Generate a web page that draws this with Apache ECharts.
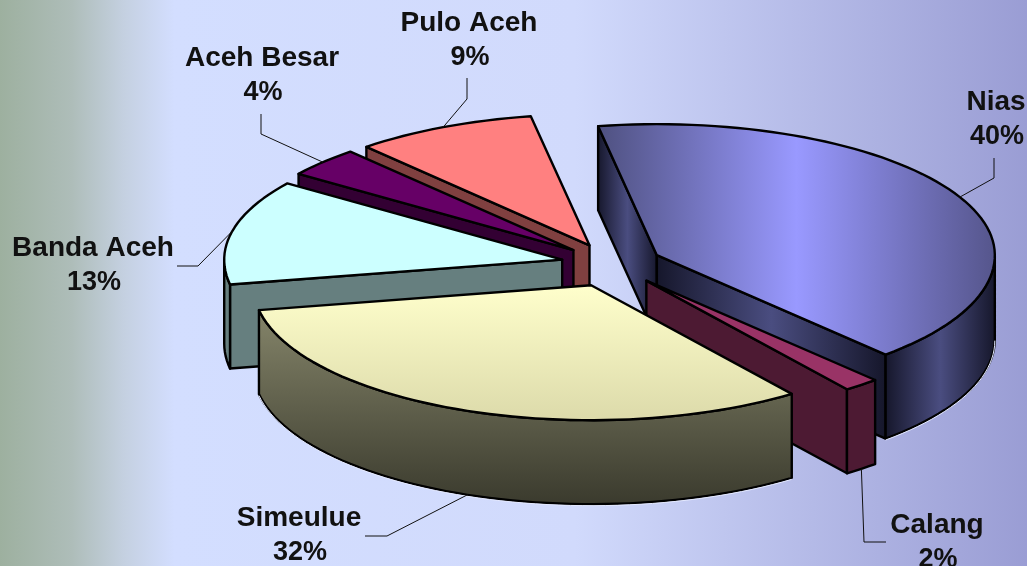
<!DOCTYPE html>
<html>
<head>
<meta charset="utf-8">
<title>Pie</title>
<style>
html, body { margin: 0; padding: 0; background: #d3deff; }
#chart { width: 1027px; height: 566px; }
</style>
<script src="https://cdn.jsdelivr.net/npm/echarts@6/dist/echarts.min.js"></script>
</head>
<body>
<div id="chart"></div>
<script>
// labels show the rounded value
var categories = ["Nias", "Calang", "Simeulue", "Banda Aceh", "Aceh Besar", "Pulo Aceh"];
var values = [40.49, 1.7, 31.8, 12.7, 3.6, 8.6];

// look of the slices, same order as categories
var topColors = [
    ["#4e507f", "#9999ff", "#55558b"], ["#993366", "#993366"], ["#ffffcc", "#dcdaaa"],
    ["#ccffff", "#ccffff"], ["#660066", "#660066"], ["#ff8080", "#ff8080"]
];
var wallColors = [
    ["#15162a", "#4a4d80", "#15162a"], ["#4d1a33", "#4d1a33"], ["#85856a", "#3a3a2d"],
    ["#667f7f", "#667f7f"], ["#330033", "#330033"], ["#804040", "#804040"]
];
var topVertical = [false, false, true, false, false, false];
var wallVertical = [false, false, true, false, false, false];
var explode = [50, 54, 57, 51, 52, 52];
var paintOrder = [3, 4, 5, 2, 1, 0];
var rimHighlight = [true, false, true, false, false, false];

// label centre, leader start, leader elbow
var labelPos = [[996, 102], [937, 525], [299, 518], [93, 248], [262, 58], [469, 23]];
var leaderStart = [[994, 158], [886, 542], [365, 536], [177, 266], [261, 114], [467, 78]];
var leaderElbow = [[994, 178], [864, 542], [387, 536], [198, 266], [261, 134], [467, 99]];

var cx = 612, cy = 264;      // pie centre
var rx = 338;                // top ellipse
var ryFront = 135, ryBack = 131;   // back half looks a bit flatter
var depth = 84;
var startAngle = -100;
var lineHeight = 35;

function gradient(colors, vertical) {
    var stops = colors.map(function (c, i) {
        return { offset: i / (colors.length - 1), color: c };
    });
    return new echarts.graphic.LinearGradient(0, 0, vertical ? 0 : 1, vertical ? 1 : 0, stops);
}

var total = values.reduce(function (a, b) { return a + b; }, 0);

function sliceAngles(i) {
    var a = startAngle;
    for (var k = 0; k < i; k++) a += values[k] / total * 360;
    return [a, a + values[i] / total * 360];
}

function rad(d) { return d * Math.PI / 180; }

function rimPoint(ox, oy, deg) {
    var s = Math.sin(rad(deg));
    return [ox + rx * Math.cos(rad(deg)), oy + (s > 0 ? ryFront : ryBack) * s];
}

function arcPoints(ox, oy, from, to) {
    var pts = [];
    var n = Math.max(2, Math.ceil(Math.abs(to - from) / 2));
    for (var j = 0; j <= n; j++) {
        pts.push(rimPoint(ox, oy, from + (to - from) * j / n));
    }
    return pts;
}

function down(pts) {
    return pts.map(function (p) { return [p[0], p[1] + depth]; });
}

function face(points, fill, z2) {
    return {
        type: "polygon",
        z2: z2,
        shape: { points: points },
        style: { fill: fill, stroke: "#000", lineWidth: 2.4, lineJoin: "round" }
    };
}

function renderSlice(params, api) {
    var i = params.dataIndex;
    var ang = sliceAngles(i);
    var mid = (ang[0] + ang[1]) / 2;
    // slices are pulled out along the middle of the slice
    var ox = cx + explode[i] * Math.cos(rad(mid));
    var oy = cy + explode[i] * ryFront / rx * Math.sin(rad(mid));
    var z = paintOrder[i] * 10;
    var wall = gradient(wallColors[i], wallVertical[i]);
    var children = [];

    var apex = [ox, oy];
    var startPt = rimPoint(ox, oy, ang[0]);
    var endPt = rimPoint(ox, oy, ang[1]);

    // only walls turned to the viewer get drawn
    if (Math.cos(rad(ang[0])) < 0) {
        children.push(face([startPt, apex, [apex[0], apex[1] + depth], [startPt[0], startPt[1] + depth]], wall, z + 1));
    }
    if (Math.cos(rad(ang[1])) > 0) {
        children.push(face([apex, endPt, [endPt[0], endPt[1] + depth], [apex[0], apex[1] + depth]], wall, z + 1));
    }
    var from = Math.max(ang[0], 0), to = Math.min(ang[1], 180);
    if (to > from) {
        var rim = arcPoints(ox, oy, from, to);
        children.push(face(rim.concat(down(rim).reverse()), wall, z + 2));
        if (rimHighlight[i]) {
            children.push({
                type: "polyline",
                z2: z + 3,
                shape: { points: down(rim).map(function (p) { return [p[0], p[1] + 1.5]; }) },
                style: { fill: null, stroke: "#e4e9ff", lineWidth: 1 }
            });
        }
    }
    var top = [apex].concat(arcPoints(ox, oy, ang[0], ang[1]));
    children.push(face(top, gradient(topColors[i], topVertical[i]), z + 4));

    // leader ends on the outer edge at the slice middle
    var end = rimPoint(ox, oy, mid);
    if (Math.sin(rad(mid)) > 0) end[1] += depth;
    children.push({
        type: "polyline",
        z2: 100,
        shape: { points: [leaderStart[i], leaderElbow[i], end] },
        style: { fill: null, stroke: "#111", lineWidth: 1 }
    });

    var nameFont = "bold 28px 'Liberation Sans', Arial, sans-serif";
    var pctFont = "bold 27px 'Liberation Sans', Arial, sans-serif";
    children.push({
        type: "text", z2: 101,
        style: { text: categories[i], x: labelPos[i][0], y: labelPos[i][1], font: nameFont, fill: "#111", align: "center", verticalAlign: "middle" }
    });
    children.push({
        type: "text", z2: 101,
        style: { text: Math.round(values[i]) + "%", x: labelPos[i][0] + 1, y: labelPos[i][1] + lineHeight, font: pctFont, fill: "#111", align: "center", verticalAlign: "middle" }
    });
    return { type: "group", children: children };
}

var chart = echarts.init(document.getElementById("chart"), null, { renderer: "canvas" });
chart.setOption({
    animation: false,
    backgroundColor: new echarts.graphic.LinearGradient(0, 0, 1, 0, [
        { offset: 0, color: "#9db09f" },
        { offset: 0.07, color: "#aebdb9" },
        { offset: 0.12, color: "#c4d0e0" },
        { offset: 0.17, color: "#d3deff" },
        { offset: 0.56, color: "#d1dafc" },
        { offset: 1, color: "#9a9dd4" }
    ]),
    series: [{
        type: "custom",
        coordinateSystem: "none",
        silent: true,
        renderItem: renderSlice,
        data: values
    }]
});
</script>
</body>
</html>
